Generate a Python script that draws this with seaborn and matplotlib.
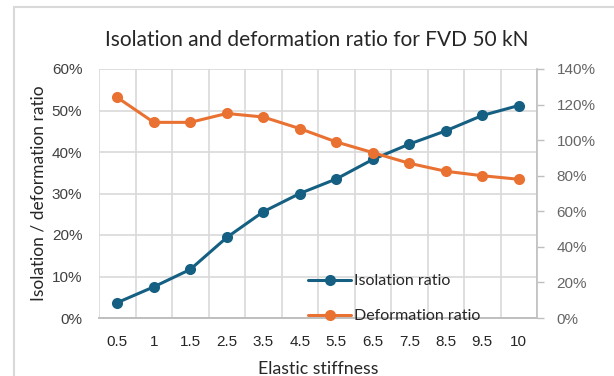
import matplotlib
matplotlib.use("Agg")
import matplotlib.pyplot as plt
from matplotlib.patches import Rectangle
from matplotlib.ticker import PercentFormatter, FixedLocator
import seaborn as sns
import pandas as pd

# Data
stiffness = ["0.5", "1", "1.5", "2.5", "3.5", "4.5", "5.5", "6.5", "7.5", "8.5", "9.5", "10"]
isolation_ratio = [0.037, 0.075, 0.117, 0.194, 0.256, 0.300, 0.335, 0.382, 0.419, 0.451, 0.488, 0.512]
deformation_ratio = [1.24, 1.10, 1.10, 1.15, 1.13, 1.065, 0.99, 0.93, 0.87, 0.825, 0.80, 0.78]

BLUE = "#156082"
ORANGE = "#E97132"
GRID = "#d9d9d9"
TITLE_FONT = ["Lato", "DejaVu Sans"]
TICK_FONT = ["Liberation Sans", "DejaVu Sans"]

sns.set_style("white")
plt.rcParams["font.family"] = TICK_FONT

df = pd.DataFrame({
    "pos": range(len(stiffness)),
    "stiffness": stiffness,
    "isolation": isolation_ratio,
    "deformation": deformation_ratio,
})

W, H = 614, 376
fig = plt.figure(figsize=(W / 100, H / 100), dpi=100)
fig.patch.set_facecolor("white")

left, right, top, bottom = 99, 537, 69, 318
ax = fig.add_axes([left / W, 1 - bottom / H, (right - left) / W, (bottom - top) / H])
ax2 = ax.twinx()

sns.lineplot(data=df, x="pos", y="isolation", ax=ax, color=BLUE, marker="o",
             markersize=8, linewidth=2.2, markeredgewidth=0, label="Isolation ratio",
             legend=False)
sns.lineplot(data=df, x="pos", y="deformation", ax=ax2, color=ORANGE, marker="o",
             markersize=8, linewidth=2.2, markeredgewidth=0, label="Deformation ratio",
             legend=False)

n = len(stiffness)
ax.set_xlim(-0.5, n - 0.5)
ax.set_ylim(0, 0.6)
ax2.set_ylim(0, 1.4)

# Category axis with gridlines between categories
ax.set_xticks(range(n))
ax.set_xticklabels(stiffness)
ax.xaxis.set_minor_locator(FixedLocator([i - 0.5 for i in range(n + 1)]))
ax.grid(which="minor", axis="x", color=GRID, linewidth=1.2)
ax.grid(which="major", axis="x", visible=False)
ax.set_yticks([i / 10 for i in range(7)])
ax.yaxis.set_major_formatter(PercentFormatter(1.0, decimals=0))
ax.grid(which="major", axis="y", color=GRID, linewidth=1.2)
ax.set_axisbelow(True)

ax2.set_yticks([i / 5 for i in range(8)])
ax2.yaxis.set_major_formatter(PercentFormatter(1.0, decimals=0))
ax2.grid(False)

for lbl in ax.get_xticklabels() + ax.get_yticklabels() + ax2.get_yticklabels():
    lbl.set_family(TICK_FONT)

ax.tick_params(axis="x", which="both", length=0, pad=12, labelsize=11, labelcolor="#262626")
ax.tick_params(axis="y", length=0, pad=12, labelsize=11, labelcolor="#404040")
ax2.tick_params(axis="y", length=5, width=1, color="#bfbfbf", pad=9,
                labelsize=11, labelcolor="#666666")

for a in (ax, ax2):
    for s in ("top", "left", "right"):
        a.spines[s].set_visible(False)
    a.spines["bottom"].set_color("#bfbfbf")
    a.spines["bottom"].set_linewidth(1.2)
ax2.spines["right"].set_visible(True)
ax2.spines["right"].set_color("#bfbfbf")
ax2.spines["right"].set_linewidth(1.2)

ax.set_xlabel("Elastic stiffness", fontsize=12.8, color="#262626", family=TITLE_FONT, labelpad=9)
ax.set_ylabel("Isolation / deformation ratio", fontsize=12.5, color="#262626", family=TITLE_FONT, labelpad=4)
ax2.set_ylabel("")

fig.text(317 / W, 1 - 40 / H, "Isolation and deformation ratio for FVD 50 kN",
         ha="center", va="center", fontsize=15, color="#262626", family=TITLE_FONT)

# Legend inside the lower right of the plot
h1, l1 = ax.get_legend_handles_labels()
h2, l2 = ax2.get_legend_handles_labels()
leg = fig.legend(h1 + h2, l1 + l2, loc="upper left",
                 bbox_to_anchor=(308 / W, 1 - 274 / H), frameon=False,
                 borderpad=0, borderaxespad=0, handlelength=2.7, handletextpad=0.2,
                 labelspacing=1.3, prop={"family": TITLE_FONT, "size": 11.5})
for t in leg.get_texts():
    t.set_color("#262626")

# Chart area border
fig.patches.append(Rectangle((14 / W, -0.05), 1.1, 1 - 7 / H + 0.05,
                             transform=fig.transFigure, fill=False,
                             edgecolor=GRID, linewidth=1.5))

fig.savefig("out.png", dpi=100)
